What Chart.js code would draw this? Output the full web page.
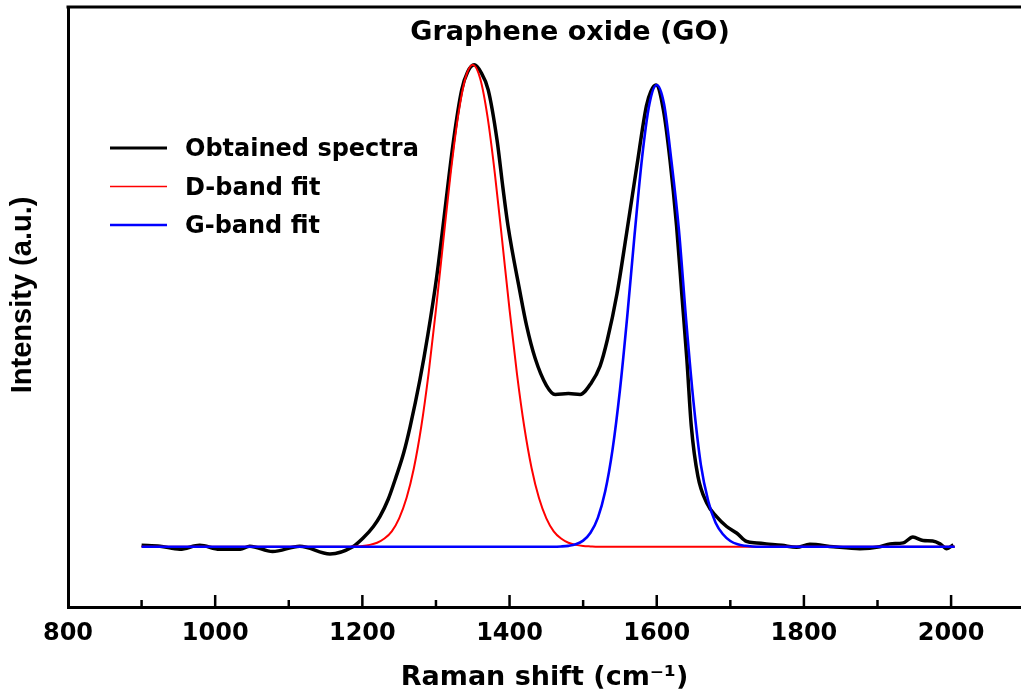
<!DOCTYPE html>
<html>
<head>
<meta charset="utf-8">
<script src="https://cdn.jsdelivr.net/npm/chart.js@4.4.1/dist/chart.umd.min.js"></script>
<style>
  html, body { margin:0; padding:0; background:#fff; overflow:hidden; }
  #wrap { width:1021px; height:698px; position:relative; }
</style>
</head>
<body>
<div id="wrap"><canvas id="chart"></canvas></div>
<script>
// Raman spectrum of GO
const spectraX = [900, 925, 952, 979, 1006, 1034, 1047, 1078, 1115, 1156,
    1187, 1201, 1215, 1224, 1235, 1246, 1256, 1265, 1278, 1289,
    1301, 1308, 1324, 1335, 1343, 1352, 1361, 1371, 1383, 1391,
    1398, 1414, 1423, 1435, 1450, 1462, 1480, 1496, 1511, 1523,
    1533, 1546, 1559, 1573, 1586, 1592, 1599, 1609, 1618, 1627,
    1634, 1641, 1647, 1656, 1668, 1681, 1695, 1709, 1722, 1736,
    1749, 1770, 1790, 1808, 1840, 1876, 1903, 1917, 1935, 1948,
    1962, 1975, 1985, 1994, 2003];
const spectraY = [0.003, 0.001, -0.005, 0.003, -0.005, -0.005, 0.001, -0.010, 0.001, -0.015,
    0.0, 0.018, 0.042, 0.063, 0.098, 0.146, 0.194, 0.25, 0.345, 0.44,
    0.56, 0.645, 0.844, 0.948, 0.985, 1.0, 0.985, 0.948, 0.844, 0.745,
    0.665, 0.53, 0.46, 0.39, 0.335, 0.316, 0.318, 0.316, 0.34, 0.375,
    0.43, 0.525, 0.65, 0.79, 0.915, 0.945, 0.958, 0.907, 0.803, 0.665,
    0.526, 0.388, 0.25, 0.146, 0.091, 0.063, 0.042, 0.028, 0.011, 0.008,
    0.006, 0.003, -0.001, 0.005, 0.0, -0.004, 0.0, 0.006, 0.008, 0.02,
    0.013, 0.012, 0.006, -0.004, 0.004];

const dBandX = [900, 1180, 1190, 1200, 1210, 1220, 1230, 1240, 1250, 1260, 1270, 1280,
    1290, 1300, 1310, 1320, 1330, 1340, 1350, 1360, 1370, 1380, 1390, 1400,
    1410, 1420, 1430, 1440, 1450, 1460, 1470, 1480, 1490, 1500, 1510, 1520, 2005];
const dBandY = [0, 0, 0.0007, 0.0017, 0.0039, 0.0083, 0.017, 0.032, 0.059, 0.101, 0.163, 0.249,
    0.360, 0.492, 0.635, 0.775, 0.893, 0.972, 1.0, 0.972, 0.893, 0.775, 0.635, 0.492,
    0.360, 0.249, 0.163, 0.101, 0.059, 0.032, 0.017, 0.0083, 0.0039, 0.0017, 0.0007, 0, 0];

const gBandX = [900, 1460, 1470, 1480, 1490, 1500, 1510, 1520, 1530, 1540, 1550, 1560,
    1570, 1580, 1590, 1600, 1610, 1620, 1630, 1640, 1650, 1660, 1670, 1680,
    1690, 1700, 1710, 1720, 1730, 1740, 2005];
const gBandY = [0, 0, 0.0006, 0.0019, 0.0051, 0.0127, 0.029, 0.060, 0.115, 0.202, 0.325, 0.479,
    0.649, 0.806, 0.918, 0.958, 0.918, 0.80, 0.66, 0.47, 0.30, 0.17, 0.095, 0.05,
    0.026, 0.012, 0.005, 0.002, 0.0006, 0, 0];

const seriesLabels = ['Obtained spectra', 'D-band fit', 'G-band fit'];
const seriesColors = ['#000000', '#ff0000', '#0000ff'];
const legendWidths = [3, 1.5, 2.5];
const xTickValues = [800, 900, 1000, 1100, 1200, 1300, 1400, 1500, 1600, 1700, 1800, 1900, 2000];
const xTicksMajor = [800, 1000, 1200, 1400, 1600, 1800, 2000];

const toPoints = (xs, ys) => xs.map((x, i) => ({ x: x, y: ys[i] }));

Chart.defaults.font.family = "'DejaVu Sans', sans-serif";
Chart.defaults.font.weight = 'bold';
Chart.defaults.color = '#000';

// legend, title, top border and inward tick marks
const decorPlugin = {
    id: 'decor',
    afterDraw(chart) {
        const ctx = chart.ctx;
        const area = chart.chartArea;
        const xs = chart.scales.x;
        ctx.save();
        ctx.strokeStyle = '#000';
        ctx.lineWidth = 3;
        ctx.beginPath();
        ctx.moveTo(area.left - 1.5, area.top);
        ctx.lineTo(area.right, area.top);
        ctx.stroke();

        ctx.lineWidth = 2.5;
        xs.ticks.forEach(t => {
            if (t.value <= xs.min) return;
            const px = xs.getPixelForValue(t.value);
            const len = xTicksMajor.includes(t.value) ? 12 : 7;
            ctx.beginPath();
            ctx.moveTo(px, area.bottom);
            ctx.lineTo(px, area.bottom - len);
            ctx.stroke();
        });

        ctx.fillStyle = '#000';
        ctx.font = "bold 27px 'DejaVu Sans'";
        ctx.textAlign = 'center';
        ctx.textBaseline = 'middle';
        ctx.fillText('Graphene oxide (GO)', 570, 33);

        ctx.font = "bold 24px 'DejaVu Sans'";
        ctx.textAlign = 'left';
        seriesLabels.forEach((lab, i) => {
            const y = 148 + i * 38.5;
            ctx.strokeStyle = seriesColors[i];
            ctx.lineWidth = legendWidths[i];
            ctx.beginPath();
            ctx.moveTo(110, y);
            ctx.lineTo(167, y);
            ctx.stroke();
            ctx.fillText(lab, 185, y + 2);
        });
        ctx.restore();
    }
};

new Chart(document.getElementById('chart'), {
    type: 'line',
    data: {
        datasets: [
            {
                label: seriesLabels[2],
                data: toPoints(gBandX, gBandY),
                borderColor: seriesColors[2],
                borderWidth: 2.6,
                order: 0
            },
            {
                label: seriesLabels[1],
                data: toPoints(dBandX, dBandY),
                borderColor: seriesColors[1],
                borderWidth: 2,
                order: 1
            },
            {
                label: seriesLabels[0],
                data: toPoints(spectraX, spectraY),
                borderColor: seriesColors[0],
                borderWidth: 3.5,
                order: 2
            }
        ]
    },
    options: {
        responsive: true,
        maintainAspectRatio: false,
        animation: false,
        layout: { padding: { top: 7, right: 0, left: 0, bottom: 0 } },
        elements: {
            point: { radius: 0 },
            line: { cubicInterpolationMode: 'monotone', fill: false }
        },
        plugins: {
            legend: { display: false },
            tooltip: { enabled: false }
        },
        scales: {
            x: {
                type: 'linear',
                min: 800,
                max: 2095,
                grid: { display: false, drawTicks: false },
                border: { display: true, color: '#000', width: 3 },
                ticks: {
                    autoSkip: false,
                    maxRotation: 0,
                    padding: 12,
                    font: { size: 24, weight: 'bold' },
                    callback: v => xTicksMajor.includes(v) ? String(v) : ''
                },
                afterBuildTicks: s => { s.ticks = xTickValues.map(v => ({ value: v })); },
                title: {
                    display: true,
                    text: 'Raman shift (cm\u207B\u00B9)',
                    font: { size: 27, weight: 'bold' },
                    padding: { top: 0, bottom: 4 }
                },
                afterFit: s => { s.height = 91; }
            },
            y: {
                min: -0.125,
                max: 1.12,
                grid: { display: false, drawTicks: false },
                border: { display: true, color: '#000', width: 3 },
                ticks: { display: false },
                title: {
                    display: true,
                    text: '   Intensity (a.u.)',
                    font: { family: "'Liberation Sans', Arial, sans-serif", size: 29, weight: 'bold' },
                    padding: { top: 6, bottom: 0 }
                },
                afterFit: s => { s.width = 68; }
            }
        }
    },
    plugins: [decorPlugin]
});
</script>
</body>
</html>
